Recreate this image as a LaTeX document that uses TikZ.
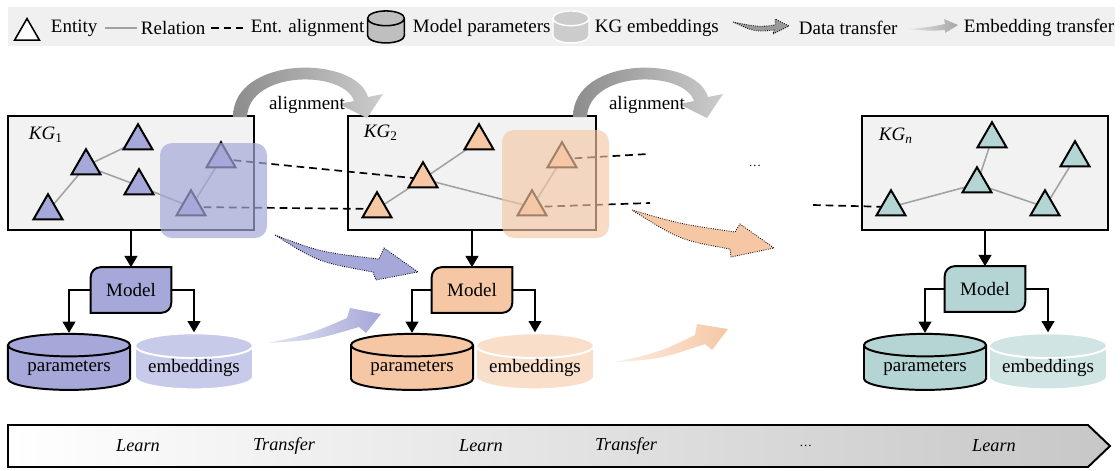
\documentclass[tikz,border=0pt]{standalone}
\usepackage{fontspec}
\setmainfont{Liberation Serif}
\usetikzlibrary{shapes.geometric,arrows.meta,calc}

\definecolor{purp}{RGB}{165,168,216}
\definecolor{purplt}{RGB}{200,202,234}
\definecolor{orng}{RGB}{245,199,165}
\definecolor{orglt}{RGB}{249,222,202}
\definecolor{teal}{RGB}{181,213,213}
\definecolor{teallt}{RGB}{208,228,228}

\pgfdeclarelayer{back}
\pgfdeclarelayer{links}
\pgfdeclarelayer{front}
\pgfsetlayers{back,links,main,front}

\tikzset{
  ent/.style={regular polygon, regular polygon sides=3, draw=black, line width=1.4pt,
    minimum size=0.84cm, inner sep=0pt},
  rel/.style={draw=black!37, line width=1.1pt},
  entalign/.style={draw=black, line width=1.2pt, dash pattern=on 5.5pt off 3.5pt},
  kgbox/.style={draw=black, line width=1.1pt, fill=black!5, minimum width=6.15cm,
    minimum height=2.85cm, inner sep=0pt},
  model/.style={minimum width=2cm, minimum height=1.125cm, inner sep=0pt},
  param/.style={cylinder, shape border rotate=90, aspect=0.27, draw=black, line width=1.4pt,
    minimum width=3.05cm, minimum height=1.4cm, inner sep=0pt},
  embd/.style={cylinder, shape border rotate=90, aspect=0.27, draw=white, line width=1.4pt,
    minimum width=2.95cm, minimum height=1.4cm, inner sep=0pt},
  arr/.style={-{Triangle[length=8pt,width=9pt]}, line width=1.4pt},
  hilite/.style={rounded corners=0.3cm, opacity=0.7},
  dataarr/.style={draw=black, densely dotted, line width=0.6pt},
  tline/.style={font=\fontsize{13}{15}\selectfont\itshape},
}

% frame of a model box, two rounded corners
\newcommand{\mdlframe}[2]{%
  \begin{pgfonlayer}{links}
    \draw[line width=1.4pt, fill=#2] ([yshift=-7pt]#1.north west)
      arc[start angle=180, end angle=90, radius=7pt] -- (#1.north east)
      -- ([yshift=7pt]#1.south east) arc[start angle=0, end angle=-90, radius=7pt]
      -- (#1.south west) -- cycle;
  \end{pgfonlayer}}

\begin{document}
\begin{tikzpicture}[x=0.025cm, y=-0.025cm,
    every node/.style={font=\fontsize{13.5}{15}\selectfont}]
  \useasboundingbox (0,0) rectangle (1120,470);

  %%% legend
  \fill[black!6] (8,7) rectangle (1115,46);
  \node[ent, fill=white, minimum size=0.72cm, line width=1.1pt] (lgent) at (27,33) {};
  \node[anchor=west] (lgentt) at (46,28) {Entity};
  \draw[rel] (105,28) -- (137,28);
  \node[anchor=west] (lgrel) at (136,28) {Relation};
  \draw[entalign] (211,28) -- (243,28);
  \node[anchor=west] (lgali) at (246,28) {Ent. alignment};
  \node[param, fill=black!25, aspect=0.5, minimum width=0.92cm, minimum height=0.8cm, line width=1.1pt] (lgpar) at (386,31) {\phantom{mm}};
  \node[anchor=west] (lgpart) at (408,28) {Model parameters};
  \node[embd, fill=black!20, aspect=0.5, minimum width=0.9cm, minimum height=0.8cm, line width=1pt] (lgemb) at (571,31) {\phantom{mm}};
  \node[anchor=west] (lgembt) at (590,28) {KG embeddings};
  \draw[dataarr, fill=black!40] (733,22) .. controls (758,27) .. (775,25) -- (775,19) -- (789,26)
    -- (773,34) -- (774,30) .. controls (755,32) .. (733,22) -- cycle;
  \node[anchor=west] (lgdat) at (794,28) {Data transfer};
  \shade[left color=black!10, right color=black!35] (908,29) .. controls (930,27) .. (945,24)
    -- (944,19) -- (958,25) -- (945,33) -- (945,30) .. controls (930,31) .. (908,29) -- cycle;
  \node[anchor=west] (lgembtr) at (959,28) {Embedding transfer};

  %%% KG boxes
  \begin{pgfonlayer}{back}
    \node[kgbox] (kg1) at (131,173) {};
    \node[kgbox, minimum width=6.2cm] (kg2) at (472,173) {};
    \node[kgbox] (kgn) at (985,173) {};
  \end{pgfonlayer}
  \node[anchor=west] (kg1l) at (24,135) {\textit{KG}\textsubscript{1}};
  \node[anchor=west] (kg2l) at (359,133) {\textit{KG}\textsubscript{2}};
  \node[anchor=west] (kgnl) at (874,136) {\textit{KG}\textsubscript{\textit{n}}};

  % entities
  \node[ent, fill=purp] (t1a) at (138,141) {};
  \node[ent, fill=purp] (t1b) at (86,166) {};
  \node[ent, fill=purp] (t1c) at (139,186) {};
  \node[ent, fill=purp] (t1d) at (48,211) {};
  \node[ent, fill=purp] (t1e) at (221,159) {};
  \node[ent, fill=purp] (t1f) at (191,207) {};

  \node[ent, fill=orng] (t2a) at (479,141) {};
  \node[ent, fill=orng] (t2b) at (423,179) {};
  \node[ent, fill=orng] (t2c) at (377,209) {};
  \node[ent, fill=orng] (t2d) at (562,159) {};
  \node[ent, fill=orng] (t2e) at (532,207) {};

  \node[ent, fill=teal] (tna) at (992,139) {};
  \node[ent, fill=teal] (tnb) at (1075,158) {};
  \node[ent, fill=teal] (tnc) at (977,184) {};
  \node[ent, fill=teal] (tnd) at (891,207) {};
  \node[ent, fill=teal] (tne) at (1045,207) {};

  \coordinate (o2a) at (648,154);
  \coordinate (o2b) at (650,203);
  \coordinate (ona) at (813,205);

  \begin{pgfonlayer}{links}
    \draw[rel] (t1b.center) -- (t1a.center);
    \draw[rel] (t1b.center) -- (t1d.center);
    \draw[rel] (t1b.center) -- (t1c.center);
    \draw[rel] (t1c.center) -- (t1f.center);
    \draw[rel] (t1f.center) -- (t1e.center);
    \draw[rel] (t2b.center) -- (t2a.center);
    \draw[rel] (t2b.center) -- (t2c.center);
    \draw[rel] (t2b.center) -- (t2e.center);
    \draw[rel] (t2e.center) -- (t2d.center);
    \draw[rel] (tnd.center) -- (tnc.center);
    \draw[rel] (tnc.center) -- (tna.center);
    \draw[rel] (tnc.center) -- (tne.center);
    \draw[rel] (tne.center) -- (tnb.center);
    % alignments
    \draw[entalign] (t1e.center) -- (t2b.center);
    \draw[entalign] (t1f.center) -- (t2c.center);
    \draw[entalign] (t2d.center) -- (o2a);
    \draw[entalign] (t2e.center) -- (o2b);
    \draw[entalign] (ona) -- (tnd.center);
  \end{pgfonlayer}

  \begin{pgfonlayer}{front}
    \fill[hilite, purp] (160,143) rectangle (267,238);
    \fill[hilite, orng, opacity=0.65] (502,130) rectangle (609,238);
  \end{pgfonlayer}

  \node (dots1) at (755,166) {\small\dots};

  % alignment arcs
  \foreach \dx/\lx in {0/307, 340/647} {
    \shade[left color=black!45, right color=black!20, shift={(\dx,0)}]
      (233,117) .. controls (233,55) and (356,55) .. (368,97) -- (383,94) -- (367,118)
      -- (339,104) -- (354,101) .. controls (344,70) and (249,70) .. (247,117) -- cycle;
    \node (lbl\dx) at (\lx,105) {alignment};
  }

  % data transfer
  \draw[dataarr, fill=purp] (275,235) .. controls (320,252) .. (379,259) -- (384,248) -- (418,272)
    -- (376,280) -- (373,272) .. controls (318,262) .. (275,235) -- cycle;
  \draw[dataarr, fill=orng] (632,210) .. controls (680,224) .. (735,232) -- (740,224) -- (774,248)
    -- (731,257) -- (730,249) .. controls (680,240) .. (632,210) -- cycle;

  % embedding transfer
  \shade[left color=purp!30, right color=purp] (268,343) .. controls (310,334) .. (347,318)
    -- (350,308) -- (381,314) -- (366,333) -- (359,327) .. controls (315,340) .. (268,343) -- cycle;
  \shade[left color=orng!30, right color=orng] (615,362) .. controls (660,352) .. (695,335)
    -- (697,324) -- (728,329) -- (712,350) -- (705,344) .. controls (660,359) .. (615,362) -- cycle;

  %%% models
  \node[model] (m1) at (131,290) {Model};
  \node[model] (m2) at (472,290) {Model};
  \node[model] (mn) at (985,289) {Model};
  \mdlframe{m1}{purp}
  \mdlframe{m2}{orng}
  \mdlframe{mn}{teal}

  \node[param, fill=purp] (p1) at (69,368) {parameters};
  \node[embd, fill=purplt] (e1) at (194,368) {embeddings};
  \node[param, fill=orng] (p2) at (412,368) {parameters};
  \node[embd, fill=orglt] (e2) at (535,368) {embeddings};
  \node[param, fill=teal] (pn) at (925,368) {parameters};
  \node[embd, fill=teallt] (en) at (1048,368) {embeddings};

  \draw[arr] (kg1.south) -- (m1.north);
  \draw[arr] (kg2.south) -- (m2.north);
  \draw[arr] (kgn.south) -- (mn.north);
  \draw[arr] (m1.west) -| (p1.north);
  \draw[arr] (m1.east) -| (e1.north);
  \draw[arr] (m2.west) -| (p2.north);
  \draw[arr] (m2.east) -| (e2.north);
  \draw[arr] (mn.west) -| (pn.north);
  \draw[arr] (mn.east) -| (en.north);

  %%% time line
  \shade[left color=white, right color=black!22] (8,425) -- (1088,425) -- (1110,446)
    -- (1088,467) -- (8,467) -- cycle;
  \draw[line width=1.4pt] (8,425) -- (1088,425) -- (1110,446) -- (1088,467) -- (8,467) -- cycle;
  \node[tline] (ln1) at (138,446) {Learn};
  \node[tline] (tr1) at (284,446) {Transfer};
  \node[tline] (ln2) at (481,446) {Learn};
  \node[tline] (tr2) at (626,446) {Transfer};
  \node[tline] (dts) at (806,446) {\small\dots};
  \node[tline] (ln3) at (994,446) {Learn};
\end{tikzpicture}
\end{document}
